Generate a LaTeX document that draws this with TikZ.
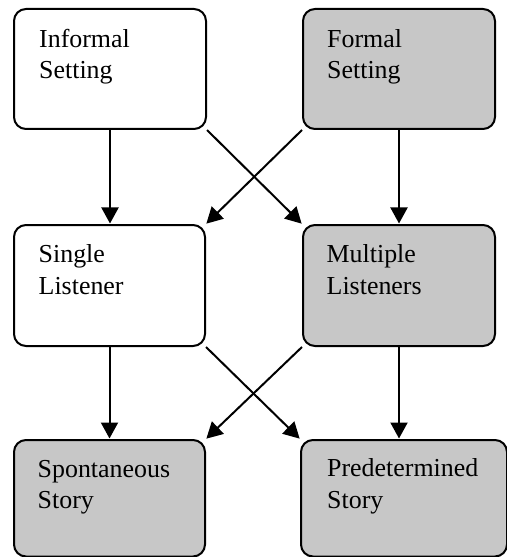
\documentclass[tikz,border=0pt]{standalone}
\usepackage{fontspec}
\setmainfont{Liberation Serif}
\usetikzlibrary{arrows.meta,calc}
\definecolor{boxgray}{gray}{0.78}
\tikzset{
  box/.style={draw=black, line width=2bp, rounded corners=12bp, inner sep=0pt, anchor=north west},
  plainbox/.style={box, fill=white},
  graybox/.style={box, fill=boxgray},
  lbl/.style={anchor=base west, inner sep=0pt, font=\fontsize{26}{31}\selectfont},
  conn/.style={line width=2bp, -{Triangle[length=16bp,width=17bp]}, shorten >=0.5bp}
}
\begin{document}
\begin{tikzpicture}[x=1bp,y=-1bp]
\useasboundingbox (0,0) rectangle (507,557);
\clip (0,0) rectangle (507,557);
\fill[white] (0,0) rectangle (507,557);
% boxes
\node[plainbox, minimum width=192bp, minimum height=120bp] (inf) at (13,8) {};
\node[graybox,  minimum width=192bp, minimum height=120bp] (fml) at (302,8) {};
\node[plainbox, minimum width=191bp, minimum height=121bp] (sgl) at (13,224) {};
\node[graybox,  minimum width=192bp, minimum height=121bp] (mul) at (302,224) {};
\node[graybox,  minimum width=191bp, minimum height=116.5bp] (spo) at (13,439) {};
\node[graybox,  minimum width=206bp, minimum height=116.5bp] (pre) at (300,439) {};
% labels
\node[lbl] (infA) at ($(inf.north west)+(26,39.5)$) {Informal};
\node[lbl] (infB) at ($(inf.north west)+(26,70.5)$) {Setting};
\node[lbl] (fmlA) at ($(fml.north west)+(25,39.5)$) {Formal};
\node[lbl] (fmlB) at ($(fml.north west)+(25,70.5)$) {Setting};
\node[lbl] (sglA) at ($(sgl.north west)+(25.5,38.5)$) {Single};
\node[lbl] (sglB) at ($(sgl.north west)+(25.5,70)$) {Listener};
\node[lbl] (mulA) at ($(mul.north west)+(24.5,38.5)$) {Multiple};
\node[lbl] (mulB) at ($(mul.north west)+(24.5,70)$) {Listeners};
\node[lbl] (spoA) at ($(spo.north west)+(24.5,38)$) {Spontaneous};
\node[lbl] (spoB) at ($(spo.north west)+(24.5,69)$) {Story};
\node[lbl] (preA) at ($(pre.north west)+(27,37.5)$) {Predetermined};
\node[lbl] (preB) at ($(pre.north west)+(27,69)$) {Story};
% connectors
\draw[conn] (inf.south) -- (inf.south |- sgl.north);
\draw[conn] (inf.south east) -- (mul.north west);
\draw[conn] (fml.south west) -- (sgl.north east);
\draw[conn] (fml.south) -- (fml.south |- mul.north);
\draw[conn] (sgl.south) -- (sgl.south |- spo.north);
\draw[conn] (sgl.south east) -- (pre.north west);
\draw[conn] (mul.south west) -- (spo.north east);
\draw[conn] (mul.south) -- (mul.south |- pre.north);
\end{tikzpicture}
\end{document}
